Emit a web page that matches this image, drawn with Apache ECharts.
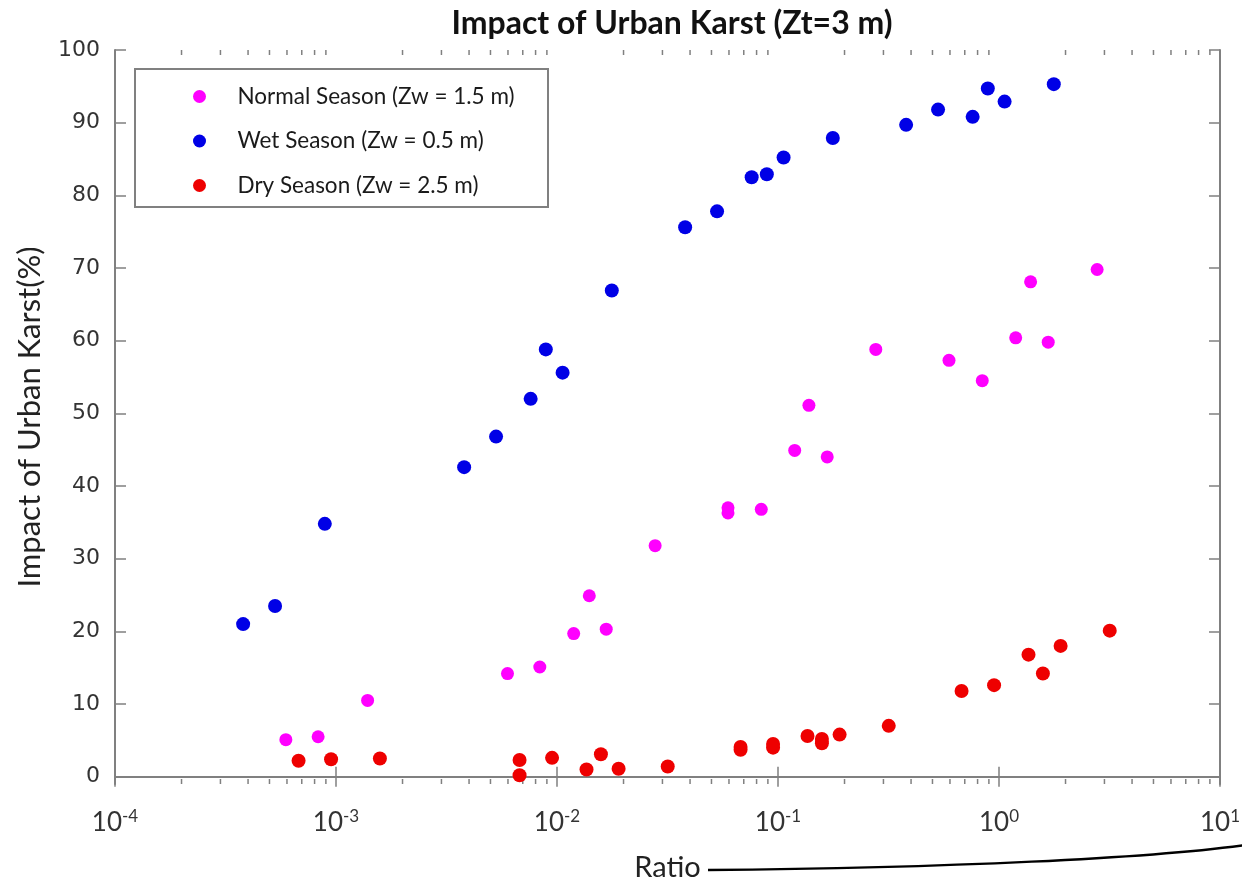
<!DOCTYPE html>
<html><head><meta charset="utf-8">
<script src="https://cdn.jsdelivr.net/npm/echarts@6/dist/echarts.min.js"></script>
<style>html,body{margin:0;padding:0;background:#fff}#c{width:1242px;height:882px}</style>
</head><body><div id="c"></div>
<script>
// ---- data ----
const seriesNames = ['Normal Season (Zw = 1.5 m)', 'Wet Season (Zw = 0.5 m)', 'Dry Season (Zw = 2.5 m)'];
const normalX = [5.93e-4, 8.3e-4, 1.39e-3, 5.97e-3, 8.36e-3, 1.19e-2, 1.40e-2, 1.67e-2, 2.78e-2, 5.94e-2, 5.94e-2, 8.4e-2, 0.119, 0.138, 0.167, 0.277, 0.594, 0.84, 1.19, 1.39, 1.67, 2.78];
const normalY = [5.1, 5.5, 10.5, 14.2, 15.1, 19.7, 24.9, 20.3, 31.8, 36.3, 37.0, 36.8, 44.9, 51.1, 44.0, 58.8, 57.3, 54.5, 60.4, 68.1, 59.8, 69.8];
const wetX = [3.8e-4, 5.3e-4, 8.9e-4, 3.8e-3, 5.3e-3, 7.6e-3, 8.9e-3, 1.06e-2, 1.77e-2, 3.8e-2, 5.3e-2, 7.6e-2, 8.9e-2, 0.106, 0.177, 0.38, 0.53, 0.76, 0.89, 1.06, 1.77];
const wetY = [21.0, 23.5, 34.8, 42.6, 46.8, 52.0, 58.8, 55.6, 66.9, 75.6, 77.8, 82.5, 82.9, 85.2, 87.9, 89.7, 91.8, 90.8, 94.7, 92.9, 95.3];
const dryX = [6.77e-4, 9.5e-4, 1.58e-3, 6.77e-3, 6.77e-3, 9.5e-3, 1.36e-2, 1.58e-2, 1.9e-2, 3.17e-2, 6.77e-2, 6.77e-2, 9.5e-2, 9.5e-2, 0.136, 0.158, 0.158, 0.19, 0.317, 0.677, 0.95, 1.36, 1.58, 1.9, 3.17];
const dryY = [2.2, 2.4, 2.5, 2.3, 0.2, 2.6, 1.0, 3.1, 1.1, 1.4, 3.7, 4.1, 4.0, 4.5, 5.6, 4.6, 5.2, 5.8, 7.0, 11.8, 12.6, 16.8, 14.2, 18.0, 20.1];
const yTickValues = [0, 10, 20, 30, 40, 50, 60, 70, 80, 90, 100];
const xMin = 1e-4, xMax = 10, yMin = -1, yMax = 100;
const decades = [-4, -3, -2, -1, 0];
const minorMultipliers = [2, 3, 4, 5, 6, 7, 8, 9];

// ---- build ----
const pairs = (xs, ys) => xs.map((x, i) => [x, ys[i]]);
const minorTicks = [];
decades.forEach(d => minorMultipliers.forEach(m => minorTicks.push([m * Math.pow(10, d), 0])));

const AX = '#808080';
const colors = ['#ff00ff', '#0000e6', '#ee0000'];
const chart = echarts.init(document.getElementById('c'), null, {renderer: 'canvas'});

const xLabelFmt = v => {
  const e = Math.round(Math.log10(v));
  return '{b|10}{s|' + e + '}';
};

const option = {
  backgroundColor: '#fff',
  animation: false,
  title: {
    text: 'Impact of Urban Karst (Zt=3 m)',
    left: 667, top: 3, textAlign: 'center',
    textStyle: {fontFamily: 'Lato', fontWeight: 'bold', fontSize: 32, color: '#111'}
  },
  grid: {left: 115, right: 22, top: 50, bottom: 98, containLabel: false, outerBoundsMode: 'none'},
  legend: {
    data: seriesNames,
    orient: 'vertical',
    left: 188, top: 80, z: 100,
    icon: 'circle',
    itemWidth: 66, itemHeight: 13, itemGap: 21.5,
    textStyle: {fontFamily: 'Lato', fontSize: 22.5, color: '#1a1a1a', lineHeight: 20}
  },
  xAxis: [{
    type: 'log', logBase: 10, min: xMin, max: xMax, position: 'bottom',
    splitNumber: 5,
    name: 'Ratio', nameLocation: 'middle', nameGap: 69,
    nameTextStyle: {fontFamily: 'Lato', fontSize: 29, color: '#222'},
    axisLine: {show: true, lineStyle: {color: AX, width: 2}},
    axisTick: {show: true, inside: true, length: 10, lineStyle: {color: AX, width: 1.5}},
    splitLine: {show: false},
    axisLabel: {
      margin: 24, formatter: xLabelFmt, fontFamily: 'Lato', fontSize: 26, color: '#333',
      rich: {
        b: {fontFamily: 'Lato', fontSize: 26, color: '#333', lineHeight: 30},
        s: {fontFamily: 'Lato', fontSize: 17, color: '#333', verticalAlign: 'top', lineHeight: 17}
      }
    }
  }, {
    type: 'log', logBase: 10, min: xMin, max: xMax, position: 'top',
    splitNumber: 5,
    axisLine: {show: true, lineStyle: {color: AX, width: 2}},
    axisTick: {show: true, inside: true, length: 10, lineStyle: {color: AX, width: 1.5}},
    splitLine: {show: false},
    axisLabel: {show: false}
  }],
  yAxis: [{
    type: 'value', min: yMin, max: yMax, position: 'left',
    name: 'Impact of Urban Karst(%)', nameLocation: 'middle', nameGap: 70, nameRotate: 90,
    nameTextStyle: {fontFamily: 'Lato', fontSize: 31, color: '#222'},
    axisLine: {show: true, lineStyle: {color: AX, width: 2}},
    axisTick: {show: true, inside: true, length: 11, customValues: yTickValues, lineStyle: {color: AX, width: 1.5}},
    axisLabel: {customValues: yTickValues, margin: 15, fontFamily: 'DejaVu Sans', fontSize: 22, color: '#333'},
    splitLine: {show: false}
  }, {
    type: 'value', min: yMin, max: yMax, position: 'right',
    axisLine: {show: true, lineStyle: {color: AX, width: 2}},
    axisTick: {show: true, inside: true, length: 11, customValues: yTickValues, lineStyle: {color: AX, width: 1.5}},
    axisLabel: {show: false},
    splitLine: {show: false}
  }],
  graphic: [
    {type: 'rect', z: 1, shape: {x: 135, y: 69, width: 413, height: 138},
     style: {fill: 'none', stroke: AX, lineWidth: 2}},
    {type: 'bezierCurve', z: 50,
     shape: {x1: 708, y1: 870, cpx1: 950, cpy1: 868, cpx2: 1150, cpy2: 858, x2: 1245, y2: 845},
     style: {stroke: '#000', lineWidth: 2.5, fill: null}}
  ],
  series: [
    {name: seriesNames[0], type: 'scatter', data: pairs(normalX, normalY), symbolSize: 13, itemStyle: {color: colors[0], opacity: 1}, z: 3},
    {name: seriesNames[1], type: 'scatter', data: pairs(wetX, wetY), symbolSize: 14, itemStyle: {color: colors[1], opacity: 1}, z: 3},
    {name: seriesNames[2], type: 'scatter', data: pairs(dryX, dryY), symbolSize: 14, itemStyle: {color: colors[2], opacity: 1}, z: 3},
    {type: 'custom', silent: true, clip: false, z: 2,
     data: minorTicks, encode: {x: 0, y: 1},
     renderItem: function (params, api) {
       const v = api.value(0);
       const b = api.coord([v, yMin]);
       const t = api.coord([v, yMax]);
       const st = {stroke: AX, lineWidth: 1.5};
       return {type: 'group', children: [
         {type: 'line', shape: {x1: b[0], y1: b[1], x2: b[0], y2: b[1] - 5}, style: st},
         {type: 'line', shape: {x1: t[0], y1: t[1], x2: t[0], y2: t[1] + 5}, style: st}
       ]};
     }}
  ]
};
chart.setOption(option);
</script></body></html>
